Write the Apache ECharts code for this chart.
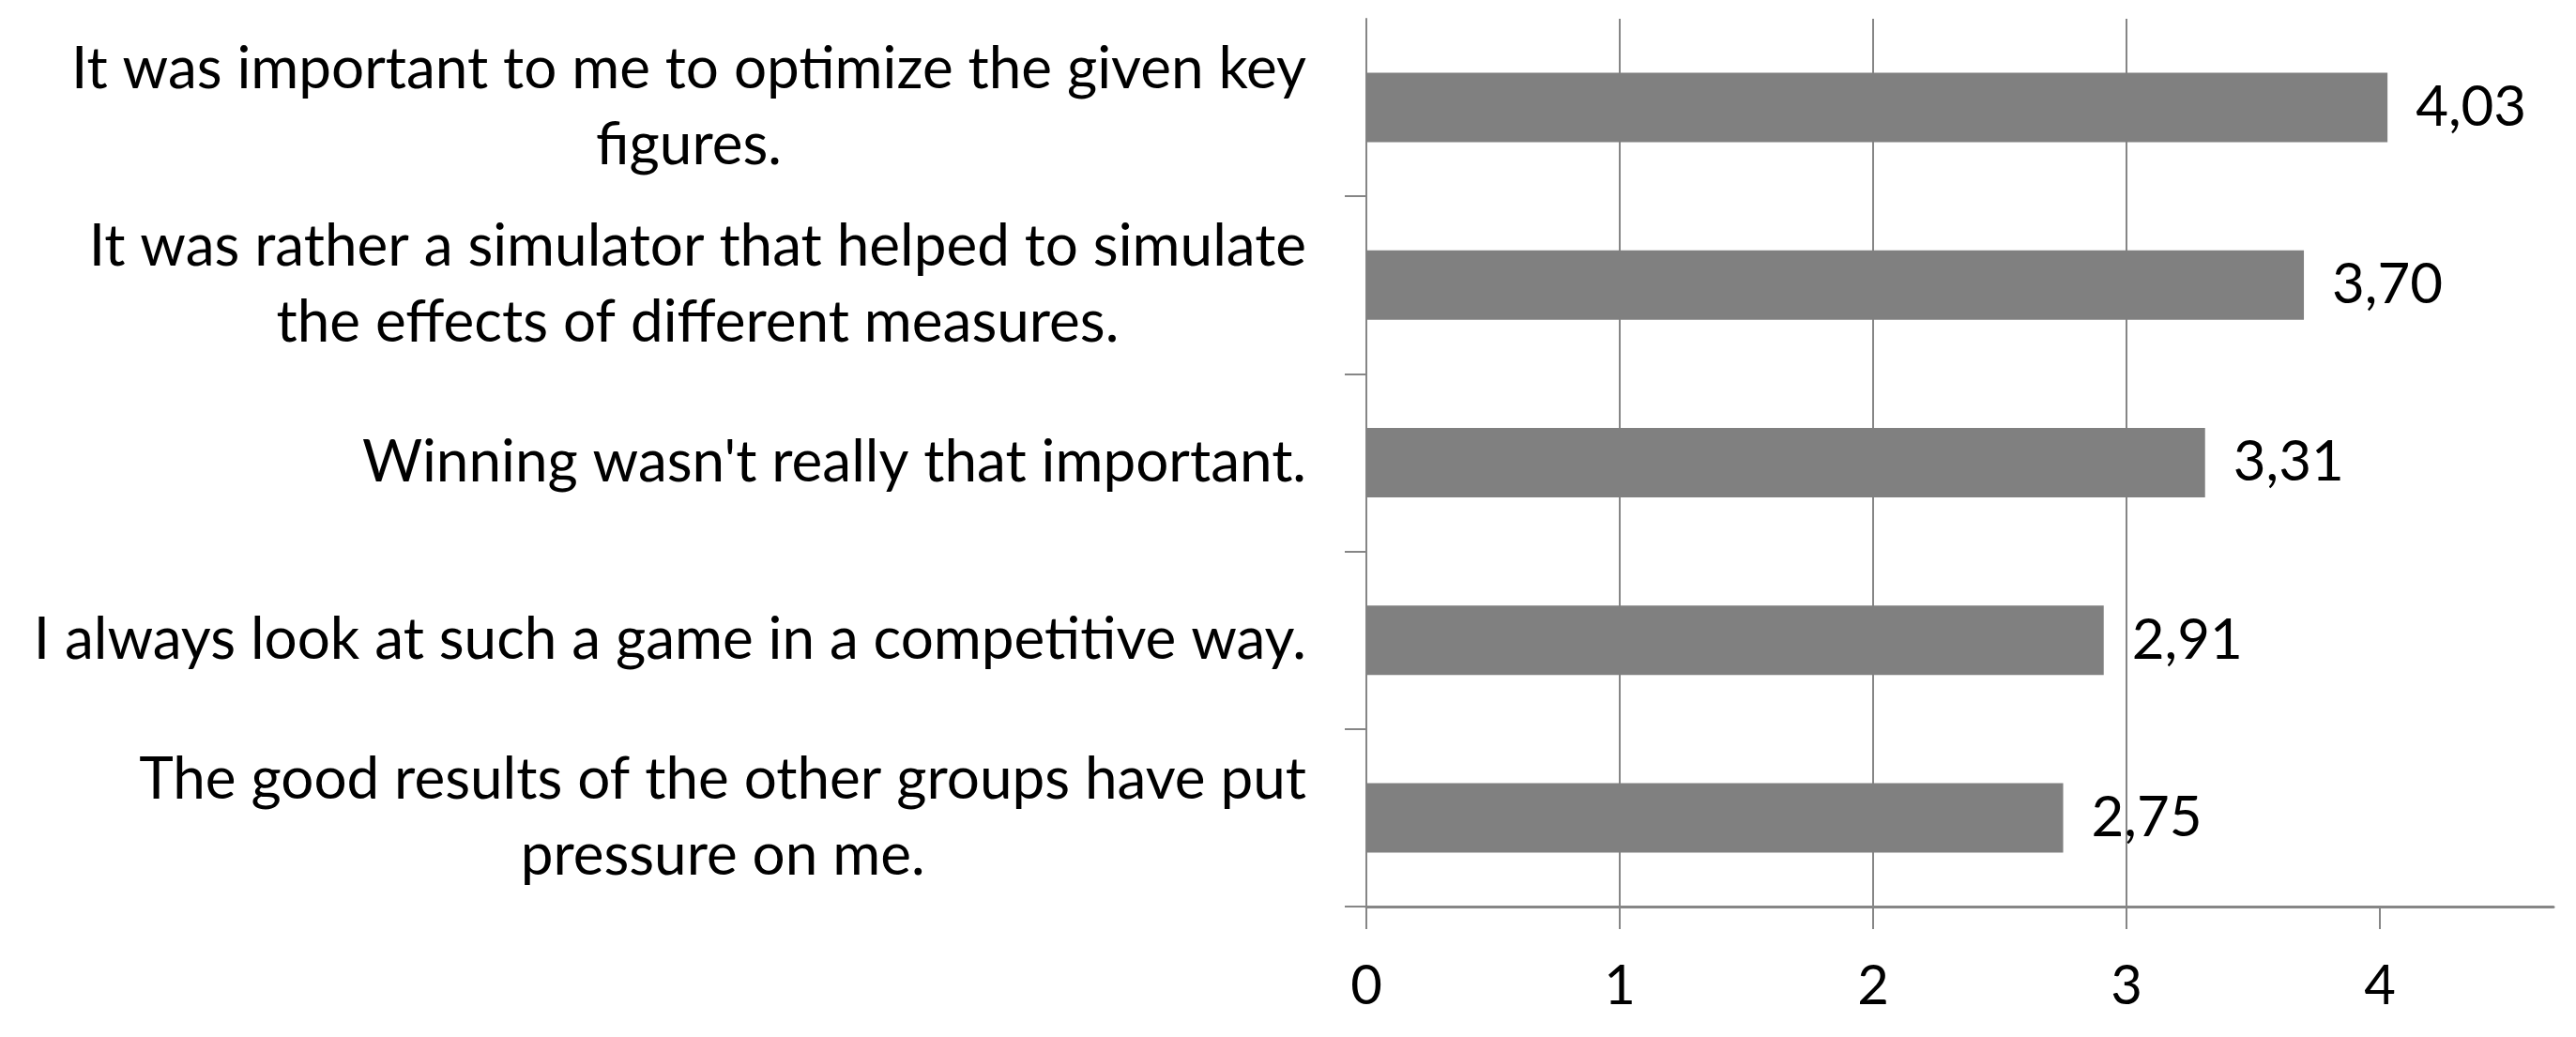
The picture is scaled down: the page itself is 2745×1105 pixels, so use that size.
<!DOCTYPE html>
<html>
<head>
<meta charset="utf-8">
<script src="https://cdn.jsdelivr.net/npm/echarts@6/dist/echarts.min.js"></script>
<style>
  html, body { margin: 0; padding: 0; background: #fff; }
  #main { width: 2745px; height: 1105px; }
</style>
</head>
<body>
<div id="main"></div>
<script>
// statements, top to bottom as in the figure
let categories = [
  "It was important to me to optimize the given key\nfigures.",
  "It was rather a simulator that helped to simulate\nthe effects of different measures.",
  "Winning wasn't really that important.",
  "I always look at such a game in a competitive way.",
  "The good results of the other groups have put\npressure on me.",
];
let values = [4.03, 3.7, 3.31, 2.91, 2.75];
let xTicks = [0, 1, 2, 3, 4];

let gray = "#868686";
let font = "Lato";

let myChart = echarts.init(document.getElementById("main"));
let option = {
  animation: false,
  textStyle: { fontFamily: font },
  grid: {
    left: 1456,
    right: 24,
    top: 20,
    bottom: 139,
    outerBoundsMode: "none",
  },
  xAxis: {
    type: "value",
    min: 0,
    max: 4.685,
    axisLine: { show: true, lineStyle: { color: gray, width: 3 } },
    axisTick: {
      show: true,
      length: 24,
      customValues: xTicks,
      lineStyle: { color: gray, width: 2 },
    },
    axisLabel: {
      customValues: xTicks,
      margin: 56,
      fontSize: 58,
      color: "#000",
      fontFamily: font,
    },
    splitLine: {
      show: true,
      showMinLine: false,
      showMaxLine: false,
      lineStyle: { color: gray, width: 2 },
    },
  },
  yAxis: {
    type: "category",
    inverse: true,
    data: categories,
    axisLine: { show: true, lineStyle: { color: gray, width: 2 } },
    axisTick: {
      show: true,
      length: 23,
      // no tick on the top edge
      interval: function (i) { return i !== 0; },
      lineStyle: { color: gray, width: 2 },
    },
    axisLabel: {
      margin: 64,
      color: "#000",
      fontSize: 62,
      fontFamily: font,
      lineHeight: 81,
      // centre each wrapped line inside the right-aligned block
      formatter: function (v) {
        return v
          .split("\n")
          .map(function (s) { return "{c|" + s + "}"; })
          .join("\n");
      },
      rich: {
        c: { align: "center", fontSize: 62, lineHeight: 81, color: "#000", fontFamily: font },
      },
    },
  },
  series: [
    {
      type: "bar",
      data: values,
      barWidth: 74,
      itemStyle: { color: "#808080" },
      label: {
        show: true,
        position: "right",
        distance: 30,
        fontSize: 60,
        color: "#000",
        fontFamily: font,
        formatter: function (p) {
          return p.value.toFixed(2).replace(".", ",");
        },
      },
    },
  ],
};
myChart.setOption(option);
</script>
</body>
</html>
